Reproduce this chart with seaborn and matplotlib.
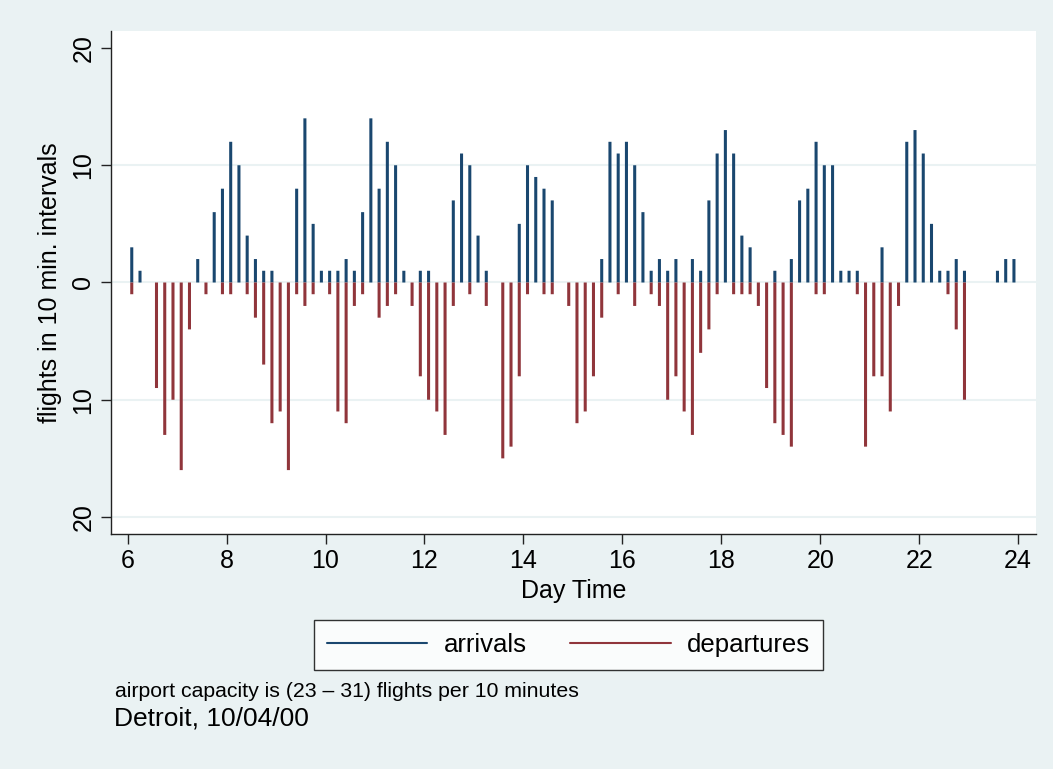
"""Arrivals and departures per 10-minute interval at Detroit airport."""

import matplotlib
matplotlib.use("Agg")
import matplotlib.pyplot as plt
from matplotlib.lines import Line2D
import numpy as np
import pandas as pd
import seaborn as sns

# 10-minute slots from 06:00 to 24:00 (bars drawn at the slot midpoint)
slot_start_minutes = np.arange(6 * 60, 24 * 60, 10)

arrivals = [
    3, 1, 0, 0, 0, 0, 0, 0, 2, 0, 6, 8, 12, 10, 4, 2, 1, 1, 0, 0,
    8, 14, 5, 1, 1, 1, 2, 1, 6, 14, 8, 12, 10, 1, 0, 1, 1, 0, 0, 7,
    11, 10, 4, 1, 0, 0, 0, 5, 10, 9, 8, 7, 0, 0, 0, 0, 0, 2, 12, 11,
    12, 10, 6, 1, 2, 1, 2, 0, 2, 1, 7, 11, 13, 11, 4, 3, 0, 0, 1, 0,
    2, 7, 8, 12, 10, 10, 1, 1, 1, 0, 0, 3, 0, 0, 12, 13, 11, 5, 1, 1,
    2, 1, 0, 0, 0, 1, 2, 2,
]
departures = [
    1, 0, 0, 9, 13, 10, 16, 4, 0, 1, 0, 1, 1, 0, 1, 3, 7, 12, 11, 16,
    1, 2, 1, 0, 1, 11, 12, 2, 1, 0, 3, 2, 1, 0, 2, 8, 10, 11, 13, 2,
    0, 1, 0, 2, 0, 15, 14, 8, 1, 0, 1, 1, 0, 2, 12, 11, 8, 3, 0, 1,
    0, 2, 0, 1, 2, 10, 8, 11, 13, 6, 4, 1, 0, 1, 1, 1, 2, 9, 12, 13,
    14, 0, 0, 1, 1, 0, 0, 0, 1, 14, 8, 8, 11, 2, 0, 0, 0, 0, 0, 1,
    4, 10, 0, 0, 0, 0, 0, 0,
]

x_ticks = [6, 8, 10, 12, 14, 16, 18, 20, 22, 24]
y_ticks = [-20, -10, 0, 10, 20]
y_tick_labels = ["20", "10", "0", "10", "20"]
series_names = ["arrivals", "departures"]
series_colors = ["#1A476F", "#90353B"]

BG = "#EAF2F3"

hours = (slot_start_minutes + 5) / 60
df = pd.concat([
    pd.DataFrame({"time": hours, "flights": arrivals, "kind": "arrivals"}),
    pd.DataFrame({"time": hours, "flights": -np.array(departures), "kind": "departures"}),
])

sns.set_theme(style="white")
plt.rcParams["font.family"] = ["Liberation Sans", "DejaVu Sans"]
plt.rcParams.update({
    "text.color": "black",
    "axes.labelcolor": "black",
    "xtick.color": "black",
    "ytick.color": "black",
})

fig = plt.figure(figsize=(10.53, 7.69), dpi=100, facecolor=BG)
ax = fig.add_axes([0.1051, 0.3056, 0.8785, 0.6541])
ax.set_facecolor("white")

# horizontal grid (no line at the top tick)
for g in [-20, -10, 0, 10]:
    ax.axhline(g, color=BG, lw=1.5, zorder=0)

sns.barplot(
    data=df, x="time", y="flights", hue="kind", native_scale=True,
    dodge=False, width=0.37, errorbar=None, saturation=1,
    palette=dict(zip(series_names, series_colors)), linewidth=0,
    legend=False, ax=ax, zorder=2,
)
# keep every spike the same width instead of snapping to 2 or 4 px
for bar in ax.patches:
    bar.set_snap(False)

ax.set_xlim(5.657, 24.357)
ax.set_ylim(-21.45, 21.45)
ax.set_xticks(x_ticks)
ax.set_xticklabels([str(t) for t in x_ticks], fontsize=18)
ax.set_yticks(y_ticks)
ax.set_yticklabels(y_tick_labels, fontsize=18, rotation=90, va="center")
ax.grid(False)

for side in ["top", "right"]:
    ax.spines[side].set_visible(False)
for side in ["left", "bottom"]:
    ax.spines[side].set_color("#222222")
    ax.spines[side].set_linewidth(1.0)
ax.tick_params(axis="both", direction="out", length=7, width=1.0,
               color="#222222", labelcolor="black", left=True, bottom=True)
ax.tick_params(axis="x", pad=4)
ax.tick_params(axis="y", pad=4)

ax.set_xlabel("Day Time", fontsize=18)
ax.set_ylabel("flights in 10 min. intervals", fontsize=18)
ax.xaxis.set_label_coords(0.5, -0.09)
ax.yaxis.set_label_coords(-0.053, 0.5)

handles = [Line2D([], [], color=c, lw=1.5) for c in series_colors]
leg = fig.legend(
    handles, series_names, loc="center", bbox_to_anchor=(0.540, 0.1612),
    ncol=2, fontsize=18.5, frameon=True, fancybox=False, edgecolor="black",
    handlelength=3.9, handletextpad=0.65, columnspacing=1.7,
    borderpad=0.5,
)
leg.get_frame().set_linewidth(1.0)
leg.get_frame().set_facecolor("white")

fig.text(0.1092, 0.0936, "airport capacity is (23 \u2013 31) flights per 10 minutes",
         fontsize=15.3, ha="left", va="baseline")
fig.text(0.108, 0.0572, "Detroit, 10/04/00", fontsize=19, ha="left", va="baseline")

fig.savefig("out.png", dpi=100, facecolor=BG)
